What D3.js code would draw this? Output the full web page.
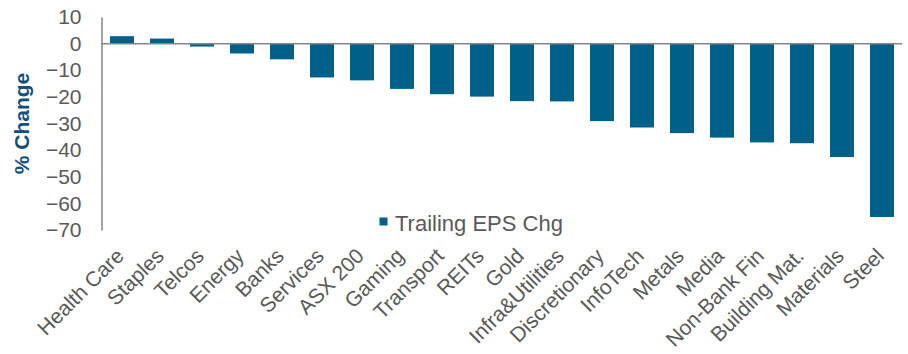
<!DOCTYPE html>
<html><head><meta charset="utf-8">
<script src="https://cdn.jsdelivr.net/npm/d3@7"></script>
<style>html,body{margin:0;padding:0;background:#fff;}svg{display:block;font-family:Arial,"Liberation Sans",sans-serif;}</style>
</head><body>
<svg id="c" width="908" height="354"></svg>
<script>
const categories = ["Health Care","Staples","Telcos","Energy","Banks","Services","ASX 200","Gaming","Transport","REITs","Gold","Infra&Utilities","Discretionary","InfoTech","Metals","Media","Non-Bank Fin","Building Mat.","Materials","Steel"];
const values = [2.8,1.9,-1.1,-3.7,-5.9,-12.7,-13.8,-17.0,-19.0,-19.9,-21.6,-21.7,-29.1,-31.5,-33.6,-35.3,-37.1,-37.4,-42.6,-65.1];
const yTicks = [10,0,-10,-20,-30,-40,-50,-60,-70];
const seriesName = "Trailing EPS Chg";
const yTitle = "% Change";

const svg = d3.select("#c");
const barColor = "#00608a";
const textColor = "#595959";
const axisColor = "#868686";

const x = d3.scaleBand().domain(categories).range([102, 902]).paddingInner(0.4).paddingOuter(0.2);
const y = d3.scaleLinear().domain([-70, 10]).range([230, 17]);

// bars
svg.append("g").selectAll("rect").data(categories).join("rect")
  .attr("x", d => x(d))
  .attr("width", x.bandwidth())
  .attr("y", (d,i) => y(Math.max(0, values[i])))
  .attr("height", (d,i) => Math.abs(y(values[i]) - y(0)))
  .attr("fill", barColor);

// y axis
const yAxis = svg.append("g").attr("transform", "translate(101.5,0)")
  .call(d3.axisLeft(y).tickValues(yTicks).tickSize(0).tickPadding(20).tickFormat(d3.format("d")));
yAxis.select(".domain").attr("stroke", axisColor).attr("stroke-width", 1.5);
yAxis.selectAll("text").attr("fill", textColor).style("font-size", "21px").style("font-family", "Arial, 'Liberation Sans', sans-serif");

// zero line
svg.append("line").attr("x1", 101).attr("x2", 902).attr("y1", y(0)).attr("y2", y(0))
  .attr("stroke", axisColor).attr("stroke-width", 1.5);

// x labels
svg.append("g").selectAll("text").data(categories).join("text")
  .attr("transform", d => `translate(${x(d) + x.bandwidth()/2 - 2},${252}) rotate(-45)`)
  .attr("text-anchor", "end")
  .attr("dy", "0.35em")
  .attr("fill", textColor)
  .style("font-size", "21px")
  .text(d => d);

// y title
svg.append("text")
  .attr("transform", `translate(29,${(17+230)/2}) rotate(-90)`)
  .attr("text-anchor", "middle")
  .attr("fill", "#114f78")
  .style("font-size", "21px").style("font-weight", "bold")
  .text(yTitle);

// legend
const lg = svg.append("g");
lg.append("rect").attr("x", 379.5).attr("y", 217.5).attr("width", 8).attr("height", 8).attr("fill", barColor);
lg.append("text").attr("x", 395).attr("y", 231).attr("fill", textColor).style("font-size", "22px").text(seriesName);
</script>
</body></html>
